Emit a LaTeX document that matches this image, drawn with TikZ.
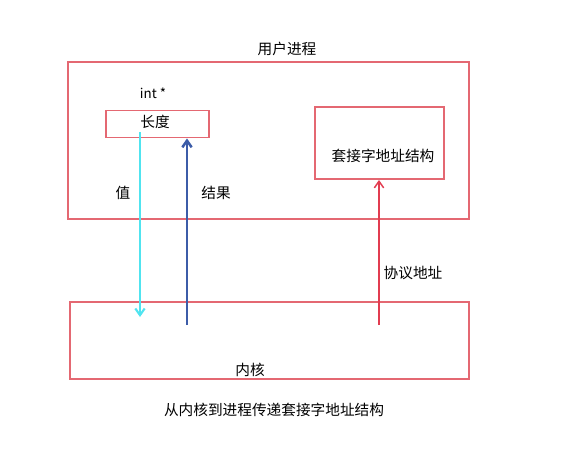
\documentclass[tikz,border=0pt]{standalone}
\usepackage{fontspec}
\setmainfont{Noto Sans CJK SC}
\usetikzlibrary{arrows.meta}
\definecolor{boxred}{RGB}{228,104,114}
\definecolor{valcyan}{RGB}{80,228,240}
\definecolor{resblue}{RGB}{60,92,168}
\definecolor{addrred}{RGB}{226,60,80}
\begin{document}
\begin{tikzpicture}[x=0.75pt,y=-0.75pt,
        box/.style={draw=boxred,line width=1.4pt,inner sep=0pt},
        lbl/.style={font=\fontsize{11}{13}\selectfont,inner sep=0pt},
        barb/.style={-{Straight Barb[length=5pt,width=7pt]}}]
    \useasboundingbox (0,0) rectangle (573,451);
    % boxes
    \node[box,minimum width=300.75pt,minimum height=117.75pt] (user) at (268.5,140.5) {};
    \node[box,minimum width=77.25pt,minimum height=20.25pt] (len) at (157.5,124) {};
    \node[box,minimum width=96.75pt,minimum height=54pt] (sock) at (379.5,143) {};
    \node[box,minimum width=299.25pt,minimum height=57.75pt] (kern) at (269.5,340.5) {};
    % texts
    \node[lbl] (userlbl) at (287,49) {用户进程};
    \node[lbl,font=\fontsize{10}{12}\selectfont] (inttype) at (153,93) {int *};
    \node[lbl] (lenlbl) at (155,122) {长度};
    \node[lbl] (socklbl) at (383,156) {套接字地址结构};
    \node[lbl] (kernlbl) at (250,370) {内核};
    \node[lbl] (vallbl) at (123,193) {值};
    \node[lbl] (reslbl) at (216,193) {结果};
    \node[lbl] (protolbl) at (413,273) {协议地址};
    \node[lbl] (caption) at (274,410) {从内核到进程传递套接字地址结构};
    % arrows
    \coordinate (valtop) at (140,132);
    \coordinate (valend) at (140,317);
    \coordinate (resstart) at (187,325);
    \coordinate (protostart) at (379,325);
    \draw[barb,valcyan,line width=1.6pt] (valtop) -- (valend);
    \draw[barb,resblue,line width=1.9pt] (resstart) -- (resstart |- len.south);
    \draw[barb,addrred,line width=1.1pt] (protostart) -- (protostart |- sock.south);
\end{tikzpicture}
\end{document}
